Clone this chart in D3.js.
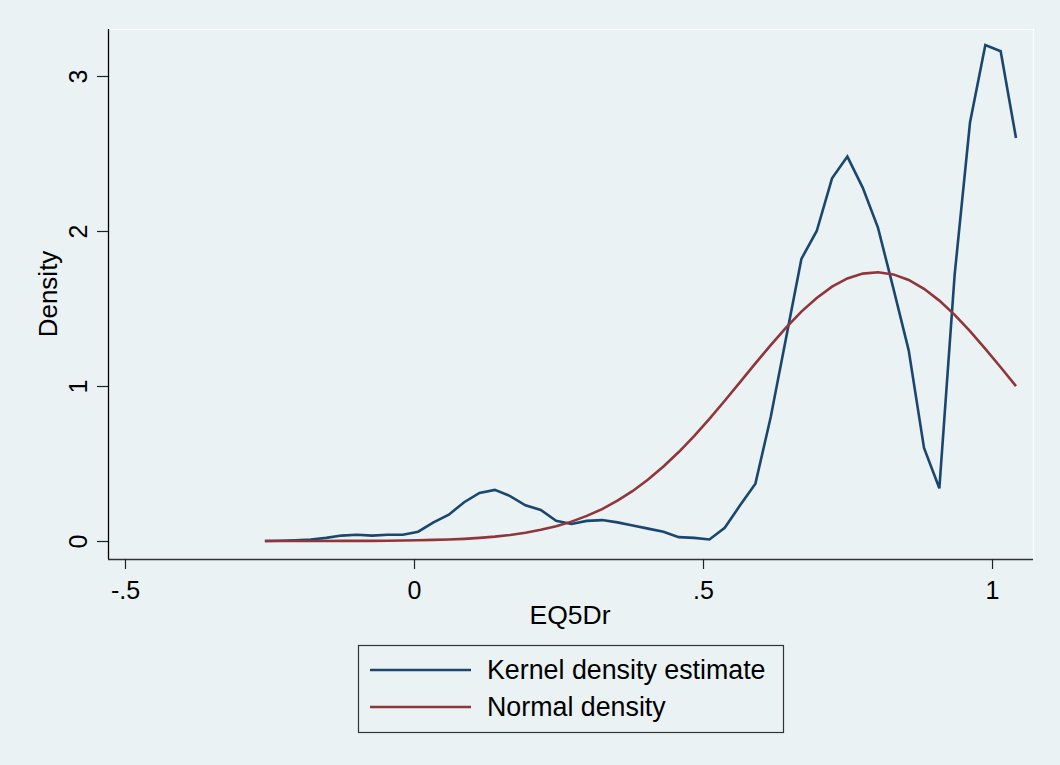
<!DOCTYPE html>
<html>
<head>
<meta charset="utf-8">
<script src="https://cdn.jsdelivr.net/npm/d3@7"></script>
<style>
  body { margin: 0; background: #eaf2f3; }
  text { font-family: "Liberation Sans", Arial, sans-serif; fill: #000; }
</style>
</head>
<body>
<script>
// grid of evaluation points (EQ5Dr)
var x0 = -0.258, step = 0.02652;

// kernel density estimate
var kernel = [0.000, 0.002, 0.005, 0.010, 0.020, 0.035, 0.040, 0.035, 0.040, 0.040,
  0.060, 0.120, 0.170, 0.250, 0.310, 0.330, 0.290, 0.230, 0.200, 0.130,
  0.110, 0.130, 0.135, 0.120, 0.100, 0.080, 0.060, 0.025, 0.020, 0.010,
  0.085, 0.230, 0.370, 0.800, 1.310, 1.820, 2.000, 2.340, 2.480, 2.280,
  2.020, 1.630, 1.230, 0.600, 0.340, 1.720, 2.700, 3.200, 3.160, 2.600];

// normal density overlay
var normal = [0.000, 0.000, 0.000, 0.000, 0.000, 0.001, 0.001, 0.001, 0.002, 0.003,
  0.005, 0.007, 0.010, 0.014, 0.020, 0.028, 0.039, 0.053, 0.072, 0.095,
  0.125, 0.162, 0.206, 0.260, 0.323, 0.397, 0.481, 0.574, 0.677, 0.788,
  0.905, 1.025, 1.146, 1.264, 1.377, 1.480, 1.568, 1.641, 1.694, 1.725,
  1.734, 1.720, 1.684, 1.627, 1.551, 1.459, 1.354, 1.240, 1.121, 0.999];

var xTicks = [-0.5, 0, 0.5, 1];
var xTickLabels = ["-.5", "0", ".5", "1"];
var yTicks = [0, 1, 2, 3];
var seriesNames = ["Kernel density estimate", "Normal density"];
var seriesColors = ["#1a476f", "#90353b"];

var width = 1060, height = 765;
var plot = { left: 108, right: 1033, top: 29, bottom: 559 };

var svg = d3.select("body").append("svg")
  .attr("width", width)
  .attr("height", height);

svg.append("rect").attr("width", width).attr("height", height).attr("fill", "#eaf2f3");

var x = d3.scaleLinear().domain([-0.5294, 1.0709]).range([plot.left, plot.right]);
var y = d3.scaleLinear().domain([-0.1161, 3.3032]).range([plot.bottom, plot.top]);

// plot region outline (white, top and right)
svg.append("path")
  .attr("d", "M" + plot.left + "," + (plot.top + 0.5) + "H" + (plot.right + 0.5) + "V" + plot.bottom)
  .attr("fill", "none")
  .attr("stroke", "#fff")
  .attr("stroke-width", 1.2);

// curves
var pts = function (arr) { return arr.map(function (d, i) { return [x0 + step * i, d]; }); };
var line = d3.line().x(function (d) { return x(d[0]); }).y(function (d) { return y(d[1]); });

[kernel, normal].forEach(function (s, k) {
  svg.append("path")
    .datum(pts(s))
    .attr("d", line)
    .attr("fill", "none")
    .attr("stroke", seriesColors[k])
    .attr("stroke-width", 2.6)
    .attr("stroke-linejoin", "miter");
});

// y axis
var yAxis = svg.append("g").attr("transform", "translate(" + plot.left + ",0)")
  .call(d3.axisLeft(y).tickValues(yTicks).tickSize(11).tickFormat(d3.format("d")));
yAxis.select(".domain").attr("d", "M0.5," + plot.top + "V" + plot.bottom).attr("stroke", "#000").attr("stroke-width", 1.3);
yAxis.selectAll(".tick line").attr("stroke", "#222").attr("stroke-width", 1.2);
yAxis.selectAll(".tick text")
  .attr("x", null).attr("dy", null)
  .attr("transform", "translate(-21,0) rotate(-90)")
  .attr("text-anchor", "middle")
  .attr("font-size", 25)
  .style("font-family", "Liberation Sans, Arial, sans-serif");

// x axis
var xAxis = svg.append("g").attr("transform", "translate(0," + plot.bottom + ")")
  .call(d3.axisBottom(x).tickValues(xTicks).tickSize(10)
    .tickFormat(function (d, i) { return xTickLabels[i]; }));
xAxis.select(".domain").attr("d", "M" + plot.left + ",0.5H" + plot.right).attr("stroke", "#333").attr("stroke-width", 1.3);
xAxis.selectAll(".tick line").attr("stroke", "#222").attr("stroke-width", 1.2);
xAxis.selectAll(".tick text")
  .attr("y", 40).attr("dy", null)
  .attr("font-size", 25)
  .style("font-family", "Liberation Sans, Arial, sans-serif");

// axis titles
svg.append("text")
  .attr("x", 570)
  .attr("y", 624)
  .attr("text-anchor", "middle")
  .attr("font-size", 26.5)
  .text("EQ5Dr");

svg.append("text")
  .attr("transform", "translate(57," + ((plot.top + plot.bottom) / 2) + ") rotate(-90)")
  .attr("text-anchor", "middle")
  .attr("font-size", 26)
  .text("Density");

// legend
var legend = svg.append("g");
legend.append("rect")
  .attr("x", 358.5).attr("y", 645.5).attr("width", 425).attr("height", 87)
  .attr("fill", "#eaf2f3").attr("stroke", "#333").attr("stroke-width", 1.2);

seriesNames.forEach(function (name, k) {
  var ly = 670 + k * 37;
  legend.append("line")
    .attr("x1", 370).attr("x2", 471).attr("y1", ly).attr("y2", ly)
    .attr("stroke", seriesColors[k]).attr("stroke-width", 2.6);
  legend.append("text")
    .attr("x", 487).attr("y", ly + 9)
    .attr("font-size", 26.8)
    .text(name);
});
</script>
</body>
</html>
